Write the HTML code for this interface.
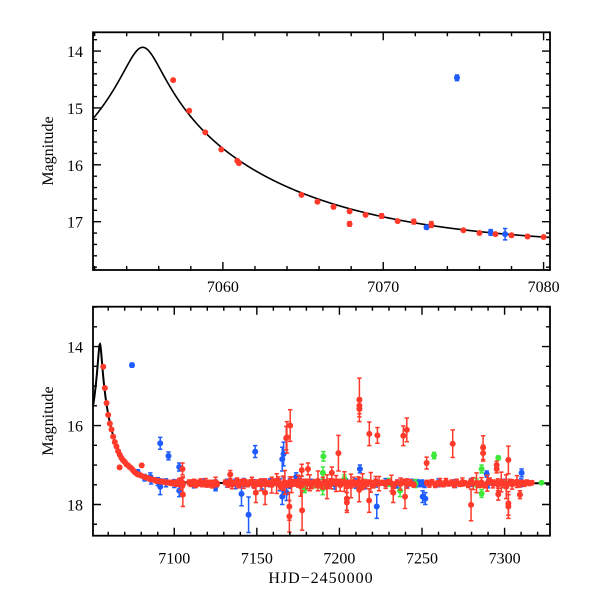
<!DOCTYPE html>
<html><head><meta charset="utf-8"><style>
body{margin:0;background:#fff}
svg{display:block}
text{font-family:"Liberation Serif",serif;fill:#000}
</style></head><body>
<svg id="chart" width="600" height="600" viewBox="0 0 600 600">
<defs>
<clipPath id="clipTop"><rect x="93" y="32" width="457" height="238"/></clipPath>
<clipPath id="clipBot"><rect x="93" y="307" width="457" height="229"/></clipPath>
</defs>
<g id="top"></g>
<g id="bot"></g>
<text x="53" y="151" font-size="16" text-anchor="middle" transform="rotate(-90 53 151)">Magnitude</text>
<text x="53" y="421" font-size="16" text-anchor="middle" transform="rotate(-90 53 421)">Magnitude</text>
<text x="321" y="583" font-size="16" text-anchor="middle" letter-spacing="1">HJD−2450000</text>
</svg>
<script>
// ---- top panel data ----
const topRedT=[7056.9,7057.9,7058.9,7059.9,7060.9,7061.0,7064.9,7065.9,7066.9,7067.9,7067.9,7068.9,7069.9,7070.9,7071.9,7073.0,7075.0,7076.0,7077.0,7078.0,7079.0,7080.0];
const topRedM=[14.51,15.05,15.43,15.73,15.93,15.97,16.53,16.65,16.74,16.82,17.04,16.88,16.90,16.99,17.00,17.05,17.15,17.20,17.22,17.24,17.26,17.27];
const topRedE=[0.02,0.02,0.02,0.02,0.02,0.02,0.02,0.02,0.03,0.02,0.04,0.02,0.04,0.02,0.04,0.05,0.02,0.03,0.02,0.03,0.03,0.02];
const topBlueT=[7074.6,7072.7,7076.7,7077.6];
const topBlueM=[14.47,17.10,17.19,17.22];
const topBlueE=[0.05,0.03,0.05,0.10];
const topXTicks=[7060,7070,7080];
const topYTicks=[14,15,16,17];
// ---- bottom panel data ----
const redDecayT=[7057,7058,7059,7060,7061,7062,7063,7064,7065,7066,7066.9,7067,7068,7069,7070,7071,7072,7073,7074,7075,7076,7077,7078,7079,7080,7080.3];
const redDecayM=[14.51,15.05,15.43,15.73,15.95,16.10,16.28,16.42,16.53,16.65,17.06,16.74,16.82,16.88,16.92,16.98,17.01,17.05,17.08,17.13,17.18,17.21,17.24,17.25,17.27,17.01];
const redDecayE=[0.03,0.03,0.03,0.03,0.03,0.03,0.03,0.03,0.03,0.03,0.04,0.03,0.03,0.03,0.03,0.03,0.03,0.03,0.03,0.03,0.03,0.03,0.03,0.03,0.03,0.04];
const redEarlyT=[7082,7083,7084,7085,7086,7087,7088,7089,7090,7091,7092,7093,7094,7095,7096,7097,7098,7099,7100,7101,7102,7103,7104,7105,7109,7110,7111,7112,7113,7114,7115,7116,7117,7118,7119,7120,7121,7122,7123,7124,7125,7126];
const redEarlyM=[17.30,17.32,17.33,17.35,17.36,17.37,17.38,17.40,17.40,17.41,17.42,17.42,17.43,17.44,17.44,17.45,17.45,17.46,17.45,17.47,17.46,17.44,17.48,17.45,17.44,17.48,17.46,17.42,17.50,17.45,17.47,17.43,17.49,17.46,17.44,17.50,17.47,17.45,17.52,17.46,17.43,17.48];
const redEarlyE=[0.04,0.04,0.04,0.04,0.04,0.04,0.04,0.04,0.04,0.04,0.05,0.05,0.05,0.05,0.05,0.05,0.06,0.06,0.06,0.06,0.08,0.10,0.15,0.12,0.06,0.06,0.08,0.06,0.07,0.06,0.06,0.08,0.06,0.06,0.10,0.06,0.08,0.06,0.06,0.07,0.12,0.06];
const redMidT=[7131,7132.5,7134,7135,7136.5,7138,7139,7140.5,7142,7143,7144.5,7146,7147,7148.5,7150,7151,7152.5,7154,7155,7156.5,7158,7159,7160.5,7162,7163,7164.5,7166,7167,7168.5,7170,7171,7172.5,7174,7175,7176.5,7178,7179,7180.5,7182,7183,7184.5,7186,7187,7188.5,7190,7191,7192.5,7194,7195,7196.5,7198,7199,7200.5,7202,7203,7204.5,7206,7207,7208.5,7210,7211.5,7213,7214,7215.5,7217,7219,7220.5,7222,7224,7226,7228,7230,7231.5,7233,7235,7237,7239,7241,7243,7245];
const redMidM=[17.44,17.48,17.42,17.50,17.46,17.40,17.52,17.45,17.47,17.43,17.49,17.45,17.41,17.53,17.46,17.44,17.50,17.47,17.42,17.48,17.45,17.51,17.43,17.47,17.40,17.55,17.46,17.44,17.49,17.42,17.50,17.45,17.47,17.41,17.54,17.46,17.43,17.48,17.45,17.52,17.44,17.47,17.40,17.50,17.46,17.43,17.55,17.45,17.48,17.42,17.47,17.44,17.51,17.46,17.42,17.49,17.45,17.53,17.43,17.47,17.45,17.50,17.42,17.48,17.46,17.44,17.52,17.41,17.47,17.45,17.49,17.43,17.46,17.51,17.44,17.48,17.42,17.47,17.45,17.50];
const redMidE=[0.06,0.08,0.06,0.1,0.06,0.07,0.06,0.08,0.12,0.06,0.06,0.07,0.1,0.06,0.08,0.06,0.15,0.06,0.07,0.06,0.06,0.2,0.08,0.25,0.1,0.06,0.18,0.3,0.08,0.12,0.2,0.08,0.06,0.15,0.25,0.1,0.06,0.12,0.2,0.08,0.06,0.1,0.25,0.08,0.15,0.06,0.3,0.1,0.12,0.06,0.2,0.08,0.15,0.06,0.25,0.1,0.06,0.3,0.12,0.08,0.15,0.06,0.2,0.1,0.08,0.25,0.06,0.12,0.18,0.06,0.1,0.06,0.2,0.08,0.06,0.15,0.06,0.12,0.08,0.06];
const redLateT=[7253,7254.5,7256,7258,7259.5,7261,7263,7264.5,7266,7268,7269.5,7271,7273,7274.5,7276,7278,7279.5,7281,7283,7284.5,7286,7288,7289.5,7291,7293,7294.5,7296,7298,7299.5,7301,7303,7304.5,7306,7307.5,7309,7310.5,7312,7313.5,7315,7316.5];
const redLateM=[17.45,17.48,17.43,17.50,17.46,17.44,17.49,17.42,17.47,17.45,17.51,17.44,17.48,17.43,17.46,17.50,17.42,17.47,17.45,17.49,17.44,17.52,17.46,17.41,17.48,17.45,17.50,17.43,17.47,17.55,17.44,17.49,17.46,17.42,17.48,17.45,17.47,17.44,17.46,17.45];
const redLateE=[0.06,0.08,0.06,0.07,0.06,0.1,0.06,0.08,0.06,0.07,0.06,0.08,0.06,0.1,0.06,0.07,0.06,0.15,0.25,0.08,0.12,0.06,0.2,0.08,0.1,0.06,0.15,0.25,0.1,0.3,0.08,0.12,0.06,0.15,0.08,0.06,0.07,0.06,0.06,0.05];
const redOutT=[7105.2,7105.2,7105.0,7149.4,7155.0,7133.9,7168.2,7170.2,7169.7,7169.7,7177.4,7177.2,7181.0,7212.1,7212.1,7212.1,7218.1,7223.0,7238.7,7240.8,7199.4,7268.6,7287.0,7287.0,7252.8,7302.3,7302.3,7302.3,7279.7,7204.5,7204.5,7218.0,7232.6,7239.7,7296.2,7309.3,7295.2,7295.2,7195.4,7212.0,7167.8];
const redOutM=[17.75,17.50,17.10,17.70,17.70,17.24,16.30,16.00,18.05,18.30,18.15,17.13,17.10,15.35,15.50,15.58,16.21,16.25,16.26,16.11,16.70,16.46,16.56,16.70,16.95,16.87,17.97,18.05,18.01,17.85,17.95,17.90,17.70,17.80,17.74,17.75,17.00,17.10,17.20,17.63,16.32];
const redOutE=[0.3,0.2,0.15,0.25,0.3,0.1,0.4,0.4,0.35,0.4,0.5,0.15,0.15,0.55,0.2,0.2,0.3,0.2,0.25,0.3,0.45,0.35,0.3,0.2,0.15,0.35,0.3,0.3,0.4,0.3,0.25,0.3,0.25,0.3,0.15,0.1,0.1,0.1,0.15,0.3,0.3];
const blueT=[7078,7082,7086,7090,7095,7100,7104,7112,7118,7125,7132,7137,7142,7148,7153,7158,7164,7170,7176,7183,7190,7197,7204,7210,7216,7222,7228,7235,7241,7244,7245.5,7247,7248.5,7250,7251.5,7260,7270,7280,7290,7300,7310];
const blueM=[17.20,17.32,17.38,17.42,17.45,17.47,17.46,17.48,17.45,17.50,17.46,17.48,17.44,17.47,17.49,17.45,17.50,17.47,17.44,17.48,17.46,17.49,17.45,17.47,17.50,17.46,17.44,17.48,17.46,17.44,17.48,17.45,17.47,17.46,17.49,17.45,17.47,17.44,17.48,17.46,17.45];
const blueE=[0.08,0.08,0.1,0.1,0.1,0.1,0.12,0.1,0.1,0.12,0.1,0.12,0.1,0.1,0.12,0.1,0.15,0.12,0.1,0.12,0.1,0.12,0.1,0.12,0.1,0.1,0.1,0.1,0.1,0.08,0.08,0.08,0.08,0.08,0.08,0.1,0.1,0.1,0.1,0.1,0.1];
const blueOutT=[7074.4,7091.5,7096.5,7149.0,7145.0,7140.7,7091.5,7103.0,7103.0,7166.2,7166.2,7168.0,7085.5,7125.0,7222.6,7250.4,7165.4,7165.4,7310.3,7289.2,7212.4,7173.8,7252.0];
const blueOutM=[14.47,16.45,16.77,16.66,18.26,17.73,17.55,17.05,17.65,16.72,17.50,17.70,17.30,17.55,18.05,17.80,16.85,17.80,17.20,17.23,17.10,17.30,17.85];
const blueOutE=[0.05,0.15,0.1,0.15,0.45,0.3,0.2,0.1,0.15,0.3,0.2,0.2,0.1,0.1,0.3,0.15,0.3,0.2,0.1,0.08,0.1,0.1,0.15];
const greenT=[7190.3,7257.3,7296.2,7189.9,7286.1,7286.1,7236.7,7322.4,7190.0,7203.0,7185.0,7215.0,7230.0,7246.0,7283.0,7300.0,7179.0];
const greenM=[16.78,16.76,16.82,17.60,17.10,17.72,17.65,17.45,17.20,17.35,17.48,17.46,17.44,17.47,17.45,17.48,17.60];
const greenE=[0.12,0.08,0.05,0.15,0.1,0.1,0.15,0.03,0.15,0.1,0.1,0.1,0.1,0.1,0.1,0.1,0.1];
const botXTicks=[7100,7150,7200,7250,7300];
const botYTicks=[14,16,18];

// ---- model (point-lens with blending) ----
const T0=7055.0,TE=14.7,U0=0.075,FS=2.0,BASE=17.46;
function model(t){const u=Math.sqrt(U0*U0+((t-T0)/TE)**2);const A=(u*u+2)/(u*Math.sqrt(u*u+4));return BASE-2.5*Math.log10(FS*A+1-FS);}

const NS='http://www.w3.org/2000/svg';
function mk(tag,attrs,parent){const e=document.createElementNS(NS,tag);for(const k in attrs)e.setAttribute(k,attrs[k]);parent.appendChild(e);return e;}

function panel(g,cfg){
  const {x0,x1,y0,y1,tmin,tmax,mmin,mmax}=cfg;
  const sx=t=>x0+(t-tmin)/(tmax-tmin)*(x1-x0);
  const sy=m=>y0+(m-mmin)/(mmax-mmin)*(y1-y0);
  const pts=[];
  for(let t=tmin;t<=tmax;t+=(tmax-tmin)/1500)pts.push(sx(t).toFixed(2)+','+sy(model(t)).toFixed(2));
  const cg=mk('g',{'clip-path':cfg.clip},g);
  const pl=mk('polyline',{points:pts.join(' '),fill:'none',stroke:'#000','stroke-width':cfg.lw},cg);
  
  
  function series(T,M,E,color,name,r){
    const sg=mk('g',{},cg);
    
    
    const n=Math.min(T.length,M.length,E.length);
    for(let i=0;i<n;i++){
      const x=sx(T[i]),y=sy(M[i]),ya=sy(M[i]-E[i]),yb=sy(M[i]+E[i]);
      const eb=mk('path',{d:`M${x},${ya}V${yb}M${x-2.2},${ya}H${x+2.2}M${x-2.2},${yb}H${x+2.2}`,stroke:color,'stroke-width':1.5,fill:'none'},sg);
      
      
      const c=mk('circle',{cx:x,cy:y,r:r,fill:color},sg);
      
      
    }
  }
  cfg.series.forEach(s=>series(s[0],s[1],s[2],s[3],s[4],cfg.r));
  const fr=mk('rect',{x:x0,y:y0,width:x1-x0,height:y1-y0,fill:'none',stroke:'#000','stroke-width':1.8},g);
  
  
  let d='';
  const xs=Math.ceil(tmin/cfg.xMinor)*cfg.xMinor;
  for(let t=xs;t<=tmax+1e-6;t+=cfg.xMinor){const x=sx(t);const maj=Math.abs(t/cfg.xMajor-Math.round(t/cfg.xMajor))<1e-6;const L=maj?8:4;d+=`M${x},${y1}v${-L}M${x},${y0}v${L}`;}
  const ms=Math.ceil(mmin/cfg.yMinor-1e-6)*cfg.yMinor;
  for(let m=ms;m<=mmax+1e-6;m+=cfg.yMinor){const y=sy(m);const maj=Math.abs(m/cfg.yMajor-Math.round(m/cfg.yMajor))<1e-6;const L=maj?8:4;d+=`M${x0},${y}h${L}M${x1},${y}h${-L}`;}
  const tk=mk('path',{d:d,stroke:'#000','stroke-width':1.4,fill:'none'},g);
  
  
  cfg.xTicks.forEach(t=>{const tx=mk('text',{x:sx(t),y:y1+cfg.xlo,'font-size':16,'text-anchor':'middle'},g);tx.textContent=t;
    
    });
  cfg.yTicks.forEach(m=>{const tx=mk('text',{x:x0-10,y:sy(m)+6,'font-size':16,'text-anchor':'end'},g);tx.textContent=m;
    
    });
}

panel(document.getElementById('top'),{x0:93,x1:550,y0:32.3,y1:270,tmin:7051.9,tmax:7080.4,mmin:13.67,mmax:17.85,clip:'url(#clipTop)',r:3,lw:1.6,xlo:22,
  xMinor:2,xMajor:10,yMinor:0.2,yMajor:1,xTicks:topXTicks,yTicks:topYTicks,
  series:[[topBlueT,topBlueM,topBlueE,'#1f5cff','blue-series'],[topRedT,topRedM,topRedE,'#ff3a2a','red-series']]});
panel(document.getElementById('bot'),{x0:93,x1:550,y0:306.7,y1:535.7,tmin:7050.8,tmax:7327.5,mmin:12.99,mmax:18.79,clip:'url(#clipBot)',r:3,lw:2,xlo:28,
  xMinor:10,xMajor:50,yMinor:0.5,yMajor:2,xTicks:botXTicks,yTicks:botYTicks,
  series:[[blueT,blueM,blueE,'#1f5cff','blue-series'],[blueOutT,blueOutM,blueOutE,'#1f5cff','blue-outliers'],[greenT,greenM,greenE,'#3ee83a','green-series'],
    [redDecayT,redDecayM,redDecayE,'#ff3a2a','red-decay'],[redEarlyT,redEarlyM,redEarlyE,'#ff3a2a','red-early'],[redMidT,redMidM,redMidE,'#ff3a2a','red-mid'],
    [redLateT,redLateM,redLateE,'#ff3a2a','red-late'],[redOutT,redOutM,redOutE,'#ff3a2a','red-outliers']]});
</script>
</body></html>
